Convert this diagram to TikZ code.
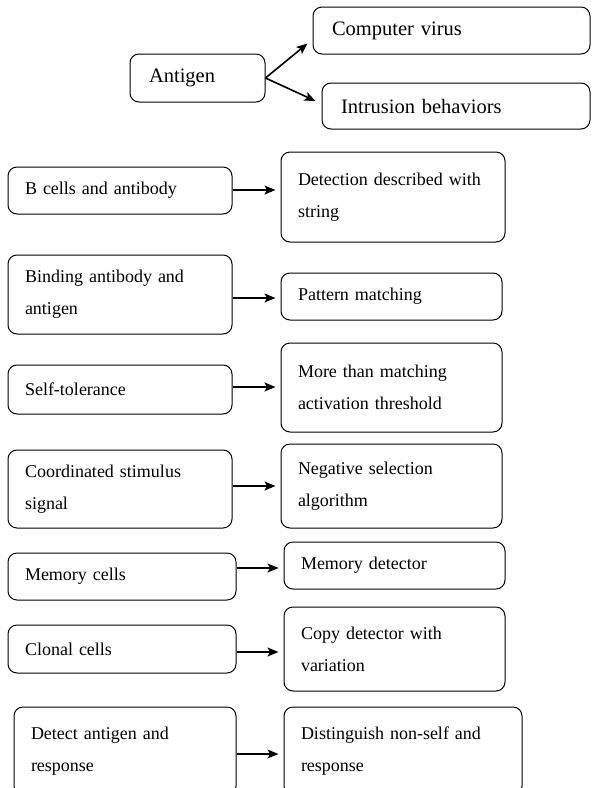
\documentclass[tikz,border=0pt]{standalone}
\usepackage{fontspec}
\setmainfont{Liberation Serif}
\usetikzlibrary{arrows.meta,positioning}
\tikzset{
  cellbox/.style={draw, line width=1pt, rounded corners=9pt, inner xsep=17pt, inner ysep=0pt,
    align=left, font=\fontsize{18}{32}\selectfont},
  topbox/.style={cellbox, inner xsep=19pt, font=\fontsize{20.5}{32}\selectfont},
  maparrow/.style={-{Stealth[length=11pt,width=9pt,inset=2.5pt]}, line width=1.6pt},
}
\newcommand{\cellnode}[6]{% name, x, y, width, height, text
  \node[cellbox, text width=#4pt-34pt, minimum height=#5pt] (#1) at (#2,#3) {#6};}
\begin{document}
\begin{tikzpicture}[x=1pt,y=-1pt]
        \useasboundingbox (0,0) rectangle (614,788);
        \clip (0,0) rectangle (614,788);
        % antigen and what it stands for
        \node[topbox, text width=135pt-38pt, minimum height=48pt] (antigen) at (197.5,78) {Antigen};
        \node[topbox, text width=277pt-38pt, minimum height=47pt] (virus) at (451.5,30.5) {Computer virus};
        \node[topbox, text width=268pt-38pt, minimum height=46pt] (intrusion) at (456,106) {Intrusion behaviors};
        \draw[maparrow] (antigen.east) -- ([xshift=-5pt,yshift=11pt]virus.south west);
        \draw[maparrow] (antigen.east) -- ([xshift=-6pt,yshift=5pt]intrusion.west);
        % immune side (left) and detection side (right)
        \cellnode{bcell}{120}{190.5}{224}{47}{B cells and antibody}
        \cellnode{strdet}{393}{197}{224}{90}{Detection described with\\string}
        \cellnode{binding}{120}{294.5}{224}{79}{Binding antibody and\\antigen}
        \cellnode{pattern}{391.5}{296.5}{221}{47}{Pattern matching}
        \cellnode{selftol}{120}{389.5}{224}{49}{Self-tolerance}
        \cellnode{thresh}{391.5}{387.5}{221}{89}{More than matching\\activation threshold}
        \cellnode{coord}{120}{489}{224}{78}{Coordinated stimulus\\signal}
        \cellnode{negsel}{391.5}{486}{221}{84}{Negative selection\\algorithm}
        \cellnode{memcell}{122}{576.5}{228}{47}{Memory cells}
        \cellnode{memdet}{394.5}{565.5}{221}{47}{Memory detector}
        \cellnode{clonal}{122}{649}{228}{48}{Clonal cells}
        \cellnode{copydet}{394.5}{649}{221}{84}{Copy detector with\\variation}
        \cellnode{detant}{125}{751}{222}{88}{Detect antigen and\\response}
        \cellnode{nonself}{403}{751}{238}{88}{Distinguish non-self and\\response}
        % mappings
        \draw[maparrow, shorten >=5pt] ([yshift=0.5pt]bcell.east) -- ([yshift=0.5pt]bcell.east -| strdet.west);
        \draw[maparrow, shorten >=5pt] ([yshift=-3.5pt]binding.east) -- ([yshift=-3.5pt]binding.east -| pattern.west);
        \draw[maparrow, shorten >=5pt] ([yshift=2.5pt]selftol.east) -- ([yshift=2.5pt]selftol.east -| thresh.west);
        \draw[maparrow, shorten >=5pt] (negsel.west -| coord.east) -- (negsel.west);
        \draw[maparrow, shorten >=5pt] ([yshift=-2.5pt]memdet.west -| memcell.east) -- ([yshift=-2.5pt]memdet.west);
        \draw[maparrow, shorten >=5pt] ([yshift=-3pt]clonal.east) -- ([yshift=-3pt]clonal.east -| copydet.west);
        \draw[maparrow, shorten >=5pt] ([yshift=-3pt]detant.east) -- ([yshift=-3pt]detant.east -| nonself.west);
      \end{tikzpicture}
\end{document}
